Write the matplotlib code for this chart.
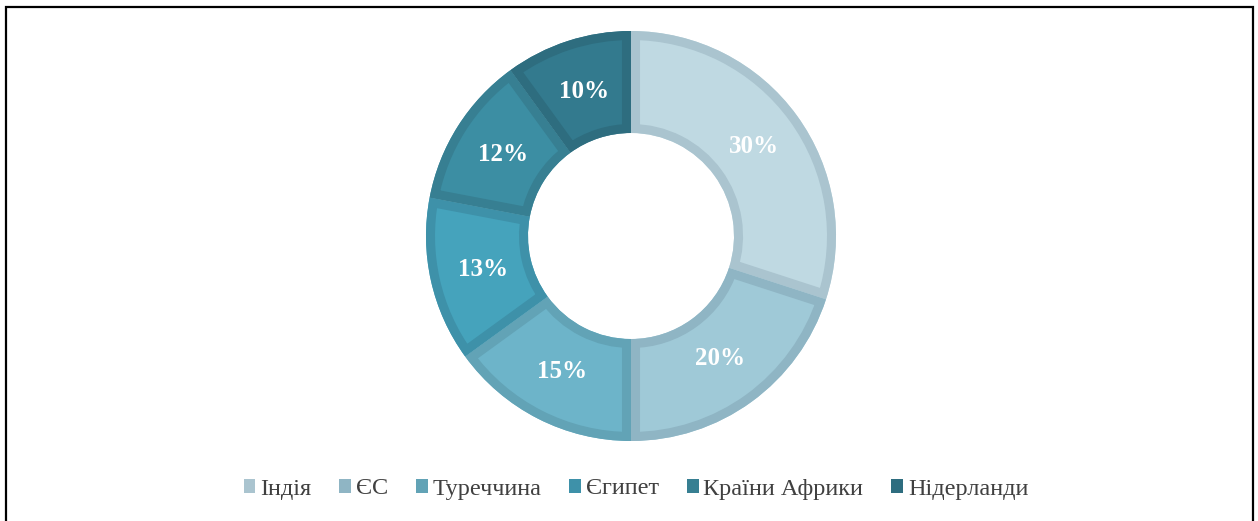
import matplotlib
matplotlib.use('Agg')
import matplotlib.pyplot as plt
from matplotlib.patches import Patch, Rectangle, Wedge

plt.rcParams['font.family'] = ['Liberation Serif', 'DejaVu Serif']

# data
countries = ['Індія', 'ЄС', 'Туреччина', 'Єгипет', 'Країни Африки', 'Нідерланди']
shares = [30, 20, 15, 13, 12, 10]
fills = ['#bfd9e2', '#9fc9d7', '#6db4c9', '#45a3bc', '#3c8ea3', '#337a8e']
borders = ['#aac4cf', '#8fb5c4', '#62a3b6', '#3e91a9', '#377f92', '#2e6d7f']

W, H = 1258, 521
fig = plt.figure(figsize=(W / 100, H / 100), dpi=100)
ax = fig.add_axes([0, 0, 1, 1])

cx, cy, r_out = 631, H - 236, 205
wedges, _, autotexts = ax.pie(
    shares, colors=fills, startangle=90, counterclock=False,
    center=(cx, cy), radius=r_out,
    wedgeprops=dict(width=102, linewidth=0),
    autopct='%d%%', pctdistance=0.74,
    textprops=dict(color='white', fontsize=18, fontweight='bold'))

# border drawn only inside each segment: a stroked copy clipped to the segment
for w, c in zip(wedges, borders):
    edge = Wedge(w.center, w.r, w.theta1, w.theta2, width=w.width,
                 facecolor='none', edgecolor=c, linewidth=13, zorder=w.get_zorder() + 0.1)
    ax.add_patch(edge)
    edge.set_clip_path(w)
for t in autotexts:
    t.set_zorder(5)

ax.set_xlim(0, W)
ax.set_ylim(0, H)
ax.set_aspect('equal')
ax.axis('off')

handles = [Patch(facecolor=c, edgecolor='none') for c in borders]
fig.legend(handles, countries, loc='center', bbox_to_anchor=(636 / W, 1 - 489 / H),
           ncol=6, frameon=False, fontsize=17.5, handlelength=0.48, handleheight=0.48,
           handletextpad=0.2, columnspacing=1.15, labelcolor='#404040')

# outer frame
fig.patches.append(Rectangle((6.5 / W, -0.1), (1253 - 6.5) / W, 1.1 - 6.5 / H,
                             transform=fig.transFigure, fill=False,
                             edgecolor='black', linewidth=1.6))

fig.savefig('out.png', dpi=100)
